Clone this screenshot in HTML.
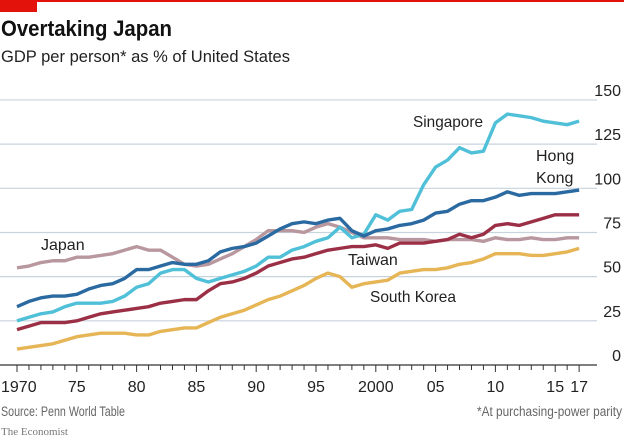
<!DOCTYPE html>
<html><head><meta charset="utf-8"><style>
body{margin:0;background:#fff;width:624px;height:441px;overflow:hidden;font-family:"Liberation Sans",sans-serif}
svg{display:block}
</style></head><body>
<svg id="chart" width="624" height="441">
<rect x="0" y="0" width="624" height="2" fill="#e3120b"/>
<rect x="0" y="0" width="37" height="12" fill="#e3120b"/>
<text x="1" y="36" font-size="22" font-weight="bold" fill="#111" textLength="171" lengthAdjust="spacingAndGlyphs">Overtaking Japan</text>
<text x="1" y="62" font-size="17" fill="#222" textLength="289" lengthAdjust="spacingAndGlyphs">GDP per person* as % of United States</text>
<g id="grid"></g>
<g id="series"></g>
<g id="labels" font-size="16" fill="#222">
<text x="41" y="250">Japan</text>
<text x="413" y="127" textLength="70" lengthAdjust="spacingAndGlyphs">Singapore</text>
<text x="536" y="161">Hong</text>
<text x="536" y="183">Kong</text>
<text x="348" y="265">Taiwan</text>
<text x="370" y="302" textLength="86" lengthAdjust="spacingAndGlyphs">South Korea</text>
</g>
<text x="1" y="416" font-size="13.5" fill="#666" textLength="124" lengthAdjust="spacingAndGlyphs">Source: Penn World Table</text>
<text x="622" y="416" font-size="13.5" fill="#666" text-anchor="end" textLength="145" lengthAdjust="spacingAndGlyphs">*At purchasing-power parity</text>
<text x="1" y="435" font-size="11" fill="#777" font-family="Liberation Serif,serif">The Economist</text>
</svg>
<script>
const years=[];for(let y=1970;y<=2017;y++)years.push(y);
const yTicks=[0,25,50,75,100,125,150];
const xTickLabels=[[1970,"1970"],[1975,"75"],[1980,"80"],[1985,"85"],[1990,"90"],[1995,"95"],[2000,"2000"],[2005,"05"],[2010,"10"],[2015,"15"],[2017,"17"]];
const japan=[55,56,58,59,59,61,61,62,63,65,67,65,65,61,57,56,57,60,63,67,71,76,76,76,75,78,80,78,75,72,72,72,71,71,71,70,71,71,71,70,72,71,71,72,71,71,72,72];
const hongKong=[33,36,38,39,39,40,43,45,46,49,54,54,56,58,57,57,59,64,66,67,69,73,77,80,81,80,82,83,76,73,76,77,79,80,82,86,87,91,93,93,95,98,96,97,97,97,98,99];
const singapore=[25,27,29,30,33,35,35,35,36,39,44,46,52,54,54,49,47,49,51,53,56,61,61,65,67,70,72,78,72,74,85,82,87,88,102,112,116,123,120,121,137,142,141,140,138,137,136,138];
const taiwan=[20,22,24,24,24,25,27,29,30,31,32,33,35,36,37,37,42,46,47,49,52,56,58,60,61,63,65,66,67,67,68,66,69,69,69,70,71,74,72,74,79,80,79,81,83,85,85,85];
const southKorea=[9,10,11,12,14,16,17,18,18,18,17,17,19,20,21,21,24,27,29,31,34,37,39,42,45,49,52,50,44,46,47,48,52,53,54,54,55,57,58,60,63,63,63,62,62,63,64,66];
const NS="http://www.w3.org/2000/svg";
const xs=y=>17+(y-1970)*11.96;
const ys=v=>365-v*1.767;
const grid=document.getElementById('grid');
function mk(tag,attrs,parent){const e=document.createElementNS(NS,tag);for(const k in attrs)e.setAttribute(k,attrs[k]);parent.appendChild(e);return e;}
yTicks.forEach(t=>{
  if(t>0){const l=mk('line',{x1:0,x2:597,y1:ys(t),y2:ys(t),stroke:'#c7d3dd','stroke-width':1.2},grid);
  
  }
  const tx=mk('text',{x:621,y:ys(t)-4,'font-size':16,fill:'#222','text-anchor':'end'},grid);
  tx.textContent=t;
  
  
});
const ax=mk('line',{x1:0,x2:597,y1:365,y2:365,stroke:'#333','stroke-width':1.2},grid);


years.forEach(y=>{const tk=mk('line',{x1:xs(y),x2:xs(y),y1:365,y2:(y%5===0||y===2017)?372:370,stroke:'#333','stroke-width':1},grid);

});
xTickLabels.forEach(([y,s])=>{const t=mk('text',{x:xs(y),y:392,'font-size':16,fill:'#222','text-anchor':y===1970?'start':'middle'},grid);
if(y===1970)t.setAttribute('x',1);
t.textContent=s;

});
const ser=document.getElementById('series');
[[japan,'#b8979f','japan-line'],[southKorea,'#e6b555','south-korea-line'],[taiwan,'#9b2f45','taiwan-line'],[singapore,'#4fc0d8','singapore-line'],[hongKong,'#2a6aa1','hong-kong-line']].forEach(([d,c,n])=>{
  const p=mk('polyline',{points:d.map((v,i)=>xs(years[i])+','+ys(v)).join(' '),fill:'none',stroke:c,'stroke-width':3.4,'stroke-linejoin':'round'},ser);
  
  
});
</script>
</body></html>
